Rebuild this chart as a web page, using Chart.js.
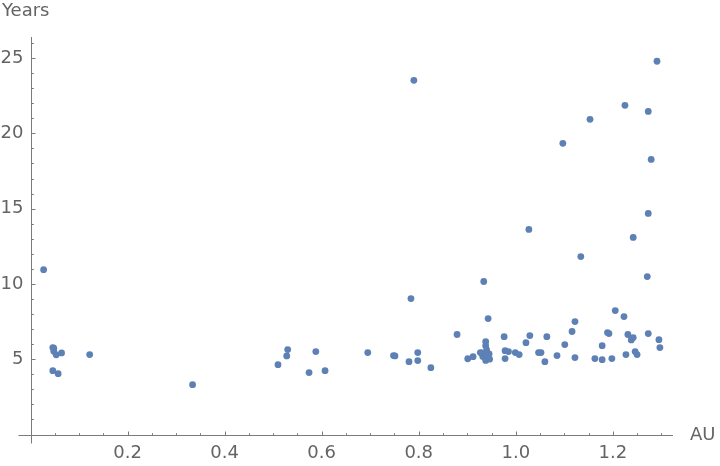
<!DOCTYPE html>
<html>
<head>
<meta charset="utf-8">
<script src="https://cdn.jsdelivr.net/npm/chart.js@4.4.1/dist/chart.umd.min.js"></script>
<style>
    html, body {margin: 0; padding: 0; background: #fff;}
    #wrap {width: 720px; height: 466px; position: relative;}
</style>
</head>
<body>
<div id="wrap"><canvas id="plot"></canvas></div>
<script>
// orbit size (AU) vs age (Years)
const auValues = [
    0.027, 0.046, 0.048, 0.048, 0.053, 0.064, 0.046, 0.057, 0.122, 0.334,
    0.510, 0.528, 0.530, 0.574, 0.588, 0.607, 0.695, 0.748, 0.751, 0.784,
    0.790, 0.780, 0.798, 0.798, 0.825, 0.879, 0.901, 0.912, 0.934, 0.943,
    0.938, 0.938, 0.940, 0.930, 0.936, 0.945, 0.932, 0.941, 0.946, 0.938,
    0.927, 0.976, 0.978, 0.985, 0.978, 0.999, 1.007, 1.021, 1.029, 1.027,
    1.047, 1.052, 1.060, 1.064, 1.085, 1.097, 1.101, 1.116, 1.122, 1.122,
    1.134, 1.153, 1.163, 1.178, 1.178, 1.189, 1.192, 1.198, 1.205, 1.223,
    1.225, 1.227, 1.231, 1.238, 1.242, 1.242, 1.246, 1.250, 1.271, 1.273,
    1.273, 1.273, 1.279, 1.291, 1.295, 1.297
];
const yearValues = [
    10.95, 5.77, 5.73, 5.53, 5.29, 5.42, 4.24, 4.04, 5.31, 3.31,
    4.64, 5.22, 5.64, 4.11, 5.51, 4.24, 5.44, 5.24, 5.22, 9.03,
    23.52, 4.84, 5.44, 4.91, 4.44, 6.64, 5.03, 5.17, 10.16, 7.70,
    6.17, 5.90, 5.62, 5.42, 5.32, 5.35, 5.18, 5.06, 5.00, 4.92,
    5.44, 6.50, 5.57, 5.51, 5.04, 5.44, 5.31, 6.10, 6.57, 13.62,
    5.44, 5.44, 4.84, 6.50, 5.24, 19.34, 5.97, 6.84, 7.50, 5.11,
    11.82, 20.93, 5.04, 5.90, 4.97, 6.77, 6.70, 5.04, 8.23, 7.83,
    21.86, 5.31, 6.64, 6.28, 6.44, 13.09, 5.51, 5.31, 10.49, 6.70,
    14.68, 21.46, 18.27, 24.79, 6.30, 5.77
];
const xTickValues = [0.2, 0.4, 0.6, 0.8, 1.0, 1.2];
const xTickLabels = ["0.2", "0.4", "0.6", "0.8", "1.0", "1.2"];
const yTickValues = [5, 10, 15, 20, 25];
const yTickLabels = ["5", "10", "15", "20", "25"];
const xAxisTitle = "AU";
const yAxisTitle = "Years";

const textColor = "#646464";
const axisColor = "#7a7a7a";
const font = {family: "DejaVu Sans", size: 18};

let points = auValues.map((x, i) => ({x: x, y: yearValues[i]}));

// mathematica style axes: crossing at 0, ticks pointing inward
const axesPlugin = {
    id: "mmaAxes",
    beforeDatasetsDraw(chart) {
        const ctx = chart.ctx;
        const xs = chart.scales.x;
        const ys = chart.scales.y;
        const x0 = Math.round(xs.getPixelForValue(0)) + 0.5;
        const y0 = Math.round(ys.getPixelForValue(0)) + 0.5;
        const area = chart.chartArea;
        ctx.save();
        ctx.strokeStyle = axisColor;
        ctx.lineWidth = 1;
        ctx.beginPath();
        ctx.moveTo(x0 - 13, y0);
        ctx.lineTo(area.right, y0);
        ctx.moveTo(x0, area.top);
        ctx.lineTo(x0, y0 + 8);
        // x ticks every 0.05, major every 0.2
        for (let k = 1; k * 0.05 <= xs.max; k++) {
            let px = Math.round(xs.getPixelForValue(k * 0.05)) + 0.5;
            let len = (k % 4 === 0) ? 4 : 2.3;
            ctx.moveTo(px, y0);
            ctx.lineTo(px, y0 - len);
        }
        // y ticks every 1, major every 5
        for (let k = 1; k <= ys.max; k++) {
            let py = Math.round(ys.getPixelForValue(k)) + 0.5;
            let len = (k % 5 === 0) ? 4 : 2.3;
            ctx.moveTo(x0, py);
            ctx.lineTo(x0 + len, py);
        }
        ctx.stroke();

        ctx.fillStyle = textColor;
        ctx.font = font.size + "px " + font.family;
        ctx.textAlign = "left";
        ctx.textBaseline = "top";
        ctx.fillText(yAxisTitle, 2, 2);
        ctx.textBaseline = "middle";
        ctx.fillText(xAxisTitle, 690, y0);
        ctx.restore();
    }
};

new Chart(document.getElementById("plot"), {
    type: "scatter",
    data: {
        datasets: [{
                data: points,
                backgroundColor: "#5E81B5",
                borderWidth: 0,
                pointRadius: 3.4,
                pointHoverRadius: 3.4
            }]
    },
    options: {
        responsive: true,
        maintainAspectRatio: false,
        animation: false,
        layout: {padding: {left: 0, top: 37, right: 47, bottom: 0}},
        plugins: {legend: {display: false}, tooltip: {enabled: false}},
        scales: {
            x: {
                type: "linear",
                min: 0,
                max: 1.324,
                grid: {display: false, drawTicks: false},
                border: {display: false},
                afterBuildTicks: s => {
                    s.ticks = xTickValues.map(v => ({value: v}));
                },
                afterFit: s => {
                    s.height = 31.5;
                },
                ticks: {
                    color: textColor,
                    font: font,
                    padding: 8,
                    maxRotation: 0,
                    autoSkip: false,
                    callback: (v, i) => xTickLabels[i]
                }
            },
            y: {
                type: "linear",
                min: 0,
                max: 26.4,
                grid: {display: false, drawTicks: false},
                border: {display: false},
                afterBuildTicks: s => {
                    s.ticks = yTickValues.map(v => ({value: v}));
                },
                afterFit: s => {
                    s.width = 30.5;
                },
                ticks: {
                    color: textColor,
                    font: font,
                    padding: 7,
                    autoSkip: false,
                    callback: (v, i) => yTickLabels[i]
                }
            }
        }
    },
    plugins: [axesPlugin]
});
</script>
</body>
</html>
